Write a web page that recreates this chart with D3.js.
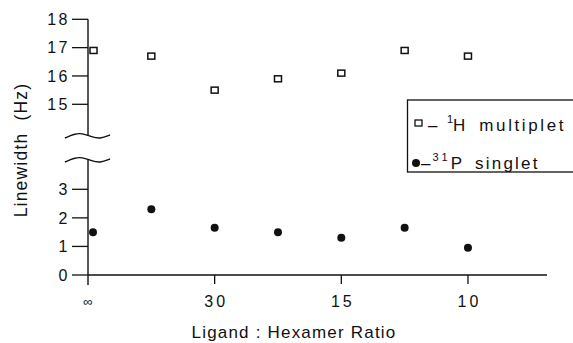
<!DOCTYPE html>
<html><head><meta charset="utf-8">
<script src="https://cdn.jsdelivr.net/npm/d3@7"></script>
<style>body{margin:0;background:#fff}svg{display:block}text{font-family:"Liberation Sans",Arial,sans-serif;fill:#111;white-space:pre}</style>
</head><body><svg id="c" width="573" height="343"></svg>
<script>
const ratios = [Infinity, 60, 30, 20, 15, 12, 10];
const hMultiplet = [16.9, 16.7, 15.5, 15.9, 16.1, 16.9, 16.7];
const pSinglet = [1.5, 2.3, 1.65, 1.5, 1.3, 1.65, 0.95];
const xTickRatios = [Infinity, 30, 15, 10];
const xTickLabels = ["∞", "30", "15", "10"];
const upperTicks = [15, 16, 17, 18];
const lowerTicks = [0, 1, 2, 3];

const svg = d3.select("#c");
const x = d3.scaleLinear().domain([0, 0.1208]).range([88, 547]);
const inv = r => (isFinite(r) ? 1 / r : 0);
const yU = d3.scaleLinear().domain([15, 18]).range([104.3, 19.3]);
const yL = d3.scaleLinear().domain([0, 3]).range([275, 189.3]);
const ink = "#111";

svg.append("line").attr("x1",88).attr("x2",88).attr("y1",yU(18)).attr("y2",136).attr("stroke",ink).attr("stroke-width",1.4);
svg.append("line").attr("x1",88).attr("x2",88).attr("y1",159).attr("y2",285).attr("stroke",ink).attr("stroke-width",1.4);
const wave = d3.line().curve(d3.curveBasis);
[136, 160].forEach(yy => {
  svg.append("path").attr("d", wave([[65,yy+2],[74,yy-2],[82,yy-3],[92,yy+1],[100,yy+3],[110,yy-1]]))
    .attr("fill","none").attr("stroke",ink).attr("stroke-width",1.4);
});
function yTicks(scale, ticks){
  ticks.forEach(t => {
    svg.append("line").attr("x1",72).attr("x2",88).attr("y1",scale(t)).attr("y2",scale(t)).attr("stroke",ink).attr("stroke-width",1.3);
    svg.append("text").attr("x",70).attr("y",scale(t)).attr("dy","0.36em").attr("text-anchor","end")
      .attr("font-size",16).attr("letter-spacing",2.5).text(String(t));
  });
}
yTicks(yU, upperTicks);
yTicks(yL, lowerTicks);

svg.append("line").attr("x1",88).attr("x2",547).attr("y1",275).attr("y2",275).attr("stroke",ink).attr("stroke-width",1.5);
xTickRatios.forEach((r,i) => {
  const xx = x(inv(r));
  if (isFinite(r)) svg.append("line").attr("x1",xx).attr("x2",xx).attr("y1",275).attr("y2",284).attr("stroke",ink).attr("stroke-width",1.3);
  svg.append("text").attr("x",xx + (isFinite(r)?1.5:0)).attr("y",301).attr("dy","0.36em").attr("text-anchor","middle")
    .attr("font-size", isFinite(r) ? 16 : 13).attr("letter-spacing", isFinite(r)?3:0).text(xTickLabels[i]);
});

svg.append("text").attr("transform","translate(27,150) rotate(-90)").attr("text-anchor","middle")
  .attr("font-size",17.5).attr("letter-spacing",1.2).text("Linewidth  (Hz)");
svg.append("text").attr("x",294).attr("y",338).attr("text-anchor","middle")
  .attr("font-size",17).attr("letter-spacing",1.2).text("Ligand : Hexamer Ratio");

svg.selectAll("rect.h").data(hMultiplet).enter().append("rect").attr("class","h")
  .attr("x",(d,i)=>x(inv(ratios[i]))+ (i===0?2:-3.5)).attr("y",d=>yU(d)-3).attr("width",7).attr("height",6)
  .attr("fill","#fff").attr("stroke",ink).attr("stroke-width",1.5);
svg.selectAll("circle.p").data(pSinglet).enter().append("circle").attr("class","p")
  .attr("cx",(d,i)=>x(inv(ratios[i]))+ (i===0?5:0)).attr("cy",d=>yL(d)).attr("r",4).attr("fill",ink);

svg.append("rect").attr("x",407.5).attr("y",100).attr("width",180).attr("height",72)
  .attr("fill","#fff").attr("stroke",ink).attr("stroke-width",1.3);
svg.append("rect").attr("x",415).attr("y",120).attr("width",7).attr("height",6).attr("fill","#fff").attr("stroke",ink).attr("stroke-width",1.3);
const t1 = svg.append("text").attr("x",428).attr("y",131).attr("font-size",17);
t1.append("tspan").text("–  ");
t1.append("tspan").attr("font-size",11).attr("dy",-8).text("1");
t1.append("tspan").attr("dy",8).text("H");
t1.append("tspan").attr("dx",14).attr("letter-spacing",2.6).text("multiplet");
svg.append("circle").attr("cx",416).attr("cy",163).attr("r",4).attr("fill",ink);
const t2 = svg.append("text").attr("x",421).attr("y",169).attr("font-size",17);
t2.append("tspan").text("–");
t2.append("tspan").attr("font-size",11).attr("dy",-8).attr("dx",2).attr("letter-spacing",3).text("31");
t2.append("tspan").attr("dy",8).text("P");
t2.append("tspan").attr("dx",13).attr("letter-spacing",2.2).text("singlet");
</script></body></html>
